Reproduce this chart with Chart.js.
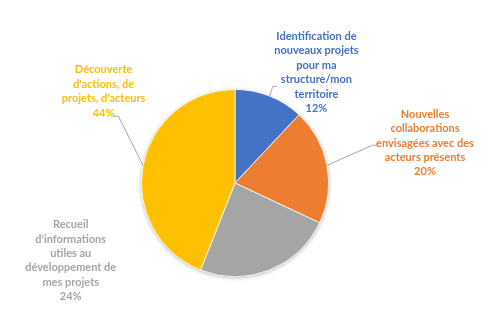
<!DOCTYPE html>
<html><head><meta charset="utf-8">
<script src="https://cdn.jsdelivr.net/npm/chart.js@4"></script>
<style>html,body{margin:0;padding:0;background:#fff}#wrap{width:500px;height:333px}</style>
</head><body><div id="wrap"><canvas id="c"></canvas></div>
<script>
// ---- data ----
const categories = [
  "Identification de nouveaux projets pour ma structure/mon territoire",
  "Nouvelles collaborations envisagées avec des acteurs présents",
  "Recueil d'informations utiles au développement de mes projets",
  "Découverte d'actions, de projets, d'acteurs"
];
const categoryLines = [
  ["Identification de", "nouveaux projets", "pour ma", "structure/mon", "territoire"],
  ["Nouvelles", "collaborations", "envisagées avec des", "acteurs présents"],
  ["Recueil", "d'informations", "utiles au", "développement de", "mes projets"],
  ["Découverte", "d'actions, de", "projets, d'acteurs"]
];
const percentages = [12, 20, 24, 44];

// ---- styles / label layout (relative to pie centre, in radius units) ----
const colors = ["#4472C4", "#ED7D31", "#A5A5A5", "#FFC000"];
const labelPos = [[0.87, -1.18], [2.03, -0.426], [-1.755, 0.83], [-1.404, -0.979]];
const leaderPts = [
  [[0.404, -1.032], [0.447, -1.032]],
  [[1.468, -0.404], [1.521, -0.404]],
  null,
  [[-1.245, -0.713], [-1.298, -0.713]]
];

const shadowPlugin = {
  id: 'shadow',
  beforeDatasetsDraw(chart) {
    const arc = chart.getDatasetMeta(0).data[0];
    if (!arc) return;
    const ctx = chart.ctx;
    ctx.save();
    ctx.shadowColor = 'rgba(0,0,0,0.3)';
    ctx.shadowBlur = 4;
    ctx.shadowOffsetY = 1;
    ctx.beginPath();
    ctx.arc(arc.x, arc.y, arc.outerRadius, 0, Math.PI * 2);
    ctx.fillStyle = '#fff';
    ctx.fill();
    ctx.restore();
  }
};

const labelPlugin = {
  id: 'outLabels',
  afterDatasetsDraw(chart) {
    const ctx = chart.ctx;
    const meta = chart.getDatasetMeta(0);
    meta.data.forEach((arc, i) => {
      const cx = arc.x, cy = arc.y, r = arc.outerRadius;
      const mid = (arc.startAngle + arc.endAngle) / 2;
      ctx.save();
      // leader line
      if (leaderPts[i]) {
        ctx.strokeStyle = '#A6A6A6';
        ctx.lineWidth = 1;
        ctx.beginPath();
        ctx.moveTo(cx + Math.cos(mid) * r, cy + Math.sin(mid) * r);
        leaderPts[i].forEach(p => ctx.lineTo(cx + p[0] * r, cy + p[1] * r));
        ctx.stroke();
      }
      // text
      const lines = categoryLines[i].concat([percentages[i] + '%']);
      const lh = 14.4;
      const tx = cx + labelPos[i][0] * r;
      const ty = cy + labelPos[i][1] * r - (lines.length - 1) * lh / 2;
      ctx.fillStyle = colors[i];
      ctx.font = 'bold 11px Lato, "Open Sans", sans-serif';
      ctx.textAlign = 'center';
      ctx.textBaseline = 'middle';
      lines.forEach((l, k) => ctx.fillText(l, tx, ty + k * lh));
      ctx.restore();
    });
  }
};

new Chart(document.getElementById('c'), {
  type: 'pie',
  data: {
    labels: categories,
    datasets: [{
      data: percentages,
      backgroundColor: colors,
      borderColor: '#ffffff',
      borderWidth: 0.8
    }]
  },
  options: {
    responsive: true,
    maintainAspectRatio: false,
    animation: false,
    layout: { padding: { top: 89, bottom: 56, left: 141, right: 171 } },
    plugins: { legend: { display: false }, tooltip: { enabled: false } }
  },
  plugins: [shadowPlugin, labelPlugin]
});
</script>
</body></html>
